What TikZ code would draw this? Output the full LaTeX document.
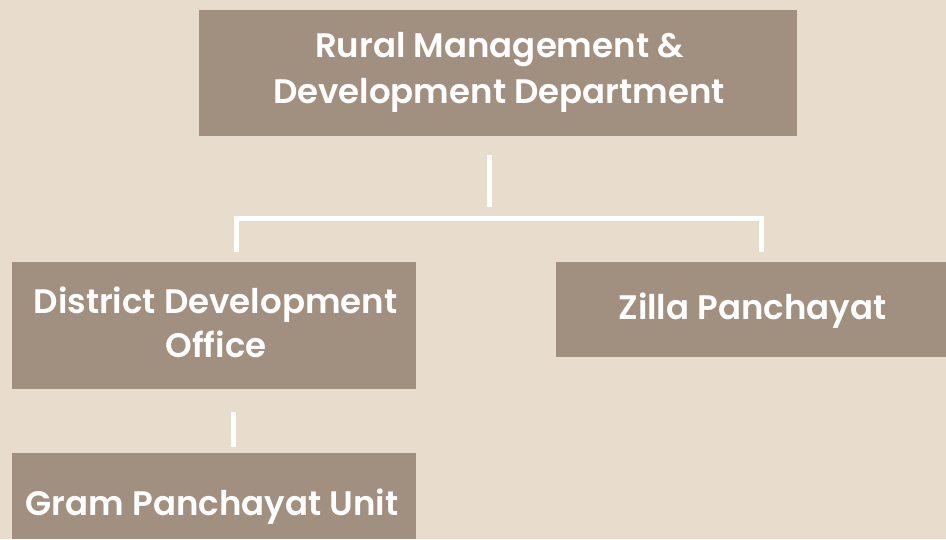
\documentclass[tikz,border=0pt]{standalone}
\usepackage{fontspec}
\setmainfont{Poppins}[BoldFont={* SemiBold}]
\definecolor{bg}{RGB}{232,221,205}
\definecolor{boxc}{RGB}{161,144,128}
\tikzset{
  orgbox/.style={fill=boxc, draw=none, inner sep=0pt, outer sep=0pt, rectangle},
  lbl/.style={text=white, font=\bfseries\fontsize{34}{45}\selectfont, inner sep=0pt, anchor=base},
  conn/.style={draw=white, line width=5pt}
}
\begin{document}
\begin{tikzpicture}[x=1pt,y=-1pt]
\fill[bg] (0,0) rectangle (946,539);
\useasboundingbox (0,0) rectangle (946,539);
% boxes
\node[orgbox, minimum width=598pt, minimum height=126pt] (rmddbox) at (498,73) {};
\node[orgbox, minimum width=404pt, minimum height=127pt] (ddobox) at (214,325.5) {};
\node[orgbox, minimum width=390pt, minimum height=95pt] (zpbox) at (751,309.5) {};
\node[orgbox, minimum width=404pt, minimum height=86pt] (gpubox) at (214,496) {};
% labels
\node[lbl] (rmdd1) at (499.5,57) {Rural Management \&};
\node[lbl] (rmdd2) at (499,103) {Development Department};
\node[lbl] (ddo1) at (215.5,313) {District Development};
\node[lbl] (ddo2) at (216,357) {Office};
\node[lbl] (zp) at (752.5,319) {Zilla Panchayat};
\node[lbl] (gpu) at (212,515) {Gram Panchayat Unit};
% connector points
\coordinate (s1) at (489,155);
\coordinate (s2) at (489,207);
\coordinate (bl) at (236,252);
\coordinate (br) at (761,252);
\coordinate (hl) at (236,218.5);
\coordinate (hr) at (761,218.5);
\coordinate (d1) at (233,412);
\coordinate (d2) at (233,447);
\draw[conn] (s1) -- (s2);
\draw[conn] (bl) -- (hl) -- (hr) -- (br);
\draw[conn] (d1) -- (d2);
\end{tikzpicture}
\end{document}
